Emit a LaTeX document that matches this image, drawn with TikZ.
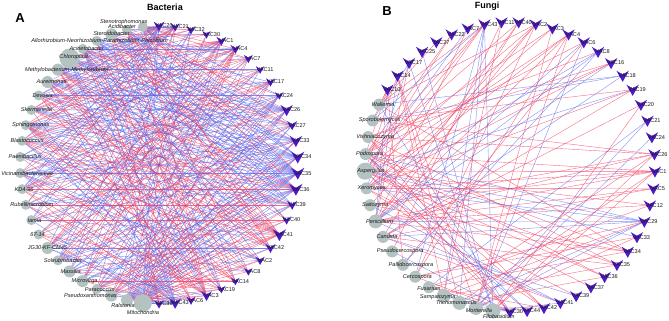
\documentclass[tikz,border=0pt]{standalone}
\usepackage{fontspec}
\setmainfont{Liberation Sans}
\usetikzlibrary{calc}
\definecolor{edgered}{RGB}{240,60,95}
\definecolor{edgeblue}{RGB}{82,102,238}
\definecolor{gnodecol}{RGB}{180,194,194}
\definecolor{vaccol}{RGB}{78,26,200}
\tikzset{
  redge/.style={draw=edgered, line width=0.4pt, opacity=0.75},
  bedge/.style={draw=edgeblue, line width=0.4pt, opacity=0.72},
  glab/.style={font=\fontsize{5.6}{6}\selectfont\itshape, inner sep=0pt, text=black!90},
  vlab/.style={font=\fontsize{5.6}{6}\selectfont, inner sep=0pt, text=black!90},
  ttl/.style={font=\bfseries\fontsize{9}{10}\selectfont, inner sep=0pt},
  pnl/.style={font=\bfseries\fontsize{13}{14}\selectfont, inner sep=0pt}
}
\def\vacA{VAC20,VAC21,VAC32,VAC30,VAC1,VAC4,VAC7,VAC11,VAC17,VAC24,VAC26,VAC27,VAC33,VAC34,VAC35,VAC36,VAC39,VAC40,VAC41,VAC42,VAC2,VAC8,VAC14,VAC19,VAC3,VAC6,VAC43,VAC38}
\def\vA{{0.6,0.4,0.4,0.3,0.5,0.5,0.4,0.3,0.4,0.3,0.8,0.5,0.8,0.9,0.9,0.9,0.5,0.4,0.9,0.5,0.4,0.3,0.3,0.3,0.6,0.4,0.7,0.4}}
\def\rA{{0.3,0.4,0.5,0.5,0.6,0.6,0.5,0.4,0.4,0.3,0.2,0.3,0.25,0.25,0.25,0.3,0.4,0.5,0.9,0.5,0.7,0.6,0.7,0.7,0.8,0.6,0.2,0.5}}
\def\bactA{Mitochondria/9/0/-9,Ralstonia/6/-4/-5,Pseudoxanthomonas/6/-21/0,Paracoccus/5/3/0,Microvirga/6/2/0,Massilia/6/1/0,Solirubrobacter/5/5/0,JG30-KF-CM45/6/0/0,67-14/5/-1/0,Iamia/5/3/0,Rubellimicrobium/5/6/0,KD4-96/5/2/0,Vicinamibacteraceae/5/7/0,Paenibacillus/5/5/0,Blastococcus/5/5/0,Sphingomonas/5/5/0,Skermanella/5/5/0,Devosia/5/4/0,Aureimonas/6/4/0,Methylobacterium-Methylorubrum/6/9/0,Chloroplast/10/4/1,Acinetobacter/5/4/0,Allorhizobium-Neorhizobium-Pararhizobium-Rhizobium/5/3/0,Steroidobacter/6/0/1,Acidibacter/5/-5/3,Stenotrophomonas/5/-19/5}
\def\wA{{0.9,0.9,0.5,0.5,0.4,0.6,0.4,0.5,0.5,0.3,0.5,0.5,0.4,0.4,0.5,0.8,0.5,0.6,0.8,0.8,0.9,0.5,0.6,0.4,0.5,0.6}}
\def\vacB{VAC10,VAC14,VAC17,VAC25,VAC27,VAC22,VAC7,VAC43,VAC11,VAC40,VAC2,VAC3,VAC4,VAC6,VAC8,VAC16,VAC18,VAC19,VAC20,VAC21,VAC24,VAC26,VAC1,VAC5,VAC12,VAC29,VAC33,VAC34,VAC35,VAC36,VAC37,VAC39,VAC41,VAC42,VAC44,VAC30}
\def\vB{{0.4,0.4,0.4,0.4,0.4,0.4,0.4,0.6,0.4,0.5,0.4,0.4,0.9,0.6,0.4,0.4,0.3,0.4,0.4,0.4,0.3,0.4,0.8,0.4,0.3,0.4,0.3,0.3,0.3,0.3,0.3,0.4,0.4,0.4,0.5,0.5}}
\def\rB{{0.8,0.6,0.5,0.5,0.75,0.75,0.75,0.7,0.75,0.7,0.8,0.85,0.97,0.6,0.6,0.5,0.4,0.75,0.8,0.6,0.6,0.75,0.95,0.8,0.85,0.3,0.85,0.9,0.9,0.9,0.85,0.4,0.35,0.75,0.5,0.5}}
\def\fungB{Filobasidium/7.5/6/-6,Mortierella/7/3/-3,Trichomonascus/7/-3/0,Sampaiozyma/7/-6/-1,Fusarium/6/0/-1,Cercospora/6/2/0,Pallidocercospora/6/8/0,Pseudocercospora/6/8/0,Candida/6/4/0,Penicillium/7/4/0,Saitozyma/6/5/0,Xeromyces/6/5/0,Aspergillus/8.5/6/0,Podospora/6/4/0,Vishniacozyma/6/7/0,Sporobolomyces/6/7/0,Wallemia/6/4/0}
\def\wB{{0.5,0.5,0.4,0.4,0.4,0.3,0.3,0.3,0.3,0.9,0.5,0.8,1.0,0.8,0.3,0.3,0.4}}
\begin{document}
\begin{tikzpicture}[x=1pt,y=1pt]
\useasboundingbox (0,0) rectangle (669,321);
\pgfmathsetseed{4242}
% ---------- Panel A coordinates
\foreach \lab [count=\j from 0] in \vacA {
  \pgfmathsetmacro\ang{90-\j*6.66667}
  \coordinate (av\j) at ({159+139*cos(\ang)},{156+139*sin(\ang)});
}
\foreach \lab/\rad/\lx/\ly [count=\i from 0] in \bactA {
  \pgfmathsetmacro\ang{90-(28+\i)*6.66667}
  \coordinate (ab\i) at ({159+139*cos(\ang)},{156+139*sin(\ang)});
}
% ---------- Panel B coordinates
\foreach \lab [count=\j from 0] in \vacB {
  \pgfmathsetmacro\ang{147.7-\j*6.79245}
  \coordinate (bv\j) at ({510+145*cos(\ang)},{154+145*sin(\ang)});
}
\foreach \lab/\rad/\lx/\ly [count=\i from 0] in \fungB {
  \pgfmathsetmacro\ang{147.7-(36+\i)*6.79245}
  \coordinate (bf\i) at ({510+145*cos(\ang)},{154+145*sin(\ang)});
}
% ---------- Panel A edges
\foreach \i in {0,...,25}{
  \foreach \j in {0,...,27}{
    \pgfmathparse{\wA[\i]}\let\wa\pgfmathresult
    \pgfmathparse{\vA[\j]}\let\wv\pgfmathresult
    \pgfmathparse{\rA[\j]}\let\rr\pgfmathresult
    \pgfmathtruncatemacro\ee{rnd<1.6*\wa*\wv}
    \pgfmathtruncatemacro\ecol{rnd<\rr}
    \ifnum\ee=1
      \ifnum\ecol=1 \draw[redge] (ab\i) -- (av\j); \else \draw[bedge] (ab\i) -- (av\j); \fi
    \fi
  }
}
% ---------- Panel B edges
\foreach \i in {0,...,16}{
  \foreach \j in {0,...,35}{
    \pgfmathparse{\wB[\i]}\let\wa\pgfmathresult
    \pgfmathparse{\vB[\j]}\let\wv\pgfmathresult
    \pgfmathparse{\rB[\j]}\let\rr\pgfmathresult
    \pgfmathtruncatemacro\ee{rnd<1.05*\wa*\wv}
    \pgfmathtruncatemacro\ecol{rnd<\rr}
    \ifnum\ee=1
      \ifnum\ecol=1 \draw[redge] (bf\i) -- (bv\j); \else \draw[bedge] (bf\i) -- (bv\j); \fi
    \fi
  }
}
% ---------- Panel A nodes
\foreach \lab/\rad/\lx/\ly [count=\i from 0] in \bactA {
  \fill[gnodecol] (ab\i) circle (\rad);
}
\foreach \lab [count=\j from 0] in \vacA {
  \pgfmathsetmacro\vw{3+4*\vA[\j]}
  \fill[vaccol, shift={(av\j)}, scale=\vw] (-1,0.8) -- (0,0.2) -- (1,0.8) -- (0,-1) -- cycle;
}
\foreach \lab/\rad/\lx/\ly [count=\i from 0] in \bactA {
  \node[glab] (lab\i) at ($(ab\i)+(\lx,\ly)$) {\lab};
}
\foreach \lab [count=\j from 0] in \vacA {
  \node[vlab] (lav\j) at ($(av\j)+(5,0)$) {\lab};
}
% ---------- Panel B nodes
\foreach \lab/\rad/\lx/\ly [count=\i from 0] in \fungB {
  \fill[gnodecol] (bf\i) circle (\rad);
}
\foreach \lab [count=\j from 0] in \vacB {
  \fill[vaccol, shift={(bv\j)}, scale=6.2] (-1,0.8) -- (0,0.2) -- (1,0.8) -- (0,-1) -- cycle;
}
\foreach \lab/\rad/\lx/\ly [count=\i from 0] in \fungB {
  \node[glab] (lbf\i) at ($(bf\i)+(\lx,\ly)$) {\lab};
}
\foreach \lab [count=\j from 0] in \vacB {
  \node[vlab] (lbv\j) at ($(bv\j)+(4.5,0)$) {\lab};
}
% ---------- Titles
\node[pnl] (tA) at (20,303) {A};
\node[ttl] (tBac) at (165,314) {Bacteria};
\node[pnl] (tB) at (387,310) {B};
\node[ttl] (tFun) at (487,315) {Fungi};
\end{tikzpicture}
\end{document}
